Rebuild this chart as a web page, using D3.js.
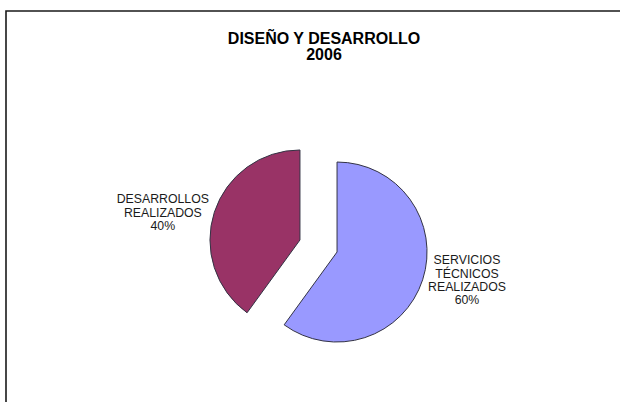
<!DOCTYPE html>
<html>
<head>
<meta charset="utf-8">
<script src="https://cdn.jsdelivr.net/npm/d3@7"></script>
<style>
body{margin:0;background:#fff;}
svg{display:block;font-family:Arial,"Liberation Sans",sans-serif;}
</style>
</head>
<body>
<svg id="chart" width="620" height="402"></svg>
<script>
// datos del grafico
var titulo=["DISEÑO Y DESARROLLO","2006"];
var categorias=[["SERVICIOS","TÉCNICOS","REALIZADOS"],["DESARROLLOS","REALIZADOS"]];
var valores=[60,40];
var colores=["#9999ff","#993366"];

var svg=d3.select("#chart");
var W=620,H=402;
var cx=318.5,cy=246,radio=90,separa=19.5;

// marco (solo arriba e izquierda se ven en la imagen)
svg.append("path")
    .attr("d","M6,"+H+"V11H"+W)
    .attr("fill","none")
    .attr("stroke","#1a1a1a")
    .attr("stroke-width",1.6);

// titulo
svg.selectAll("text.titulo")
    .data(titulo)
    .enter().append("text")
    .attr("class","titulo")
    .attr("x",324)
    .attr("y",function(d,i){return 43.5+i*16.5;})
    .attr("text-anchor","middle")
    .attr("font-weight","bold")
    .attr("font-size","16px")
    .attr("fill","#000")
    .text(function(d){return d;});

var pie=d3.pie().sort(null).value(function(d){return d;});
var arcos=pie(valores);
var arc=d3.arc().innerRadius(0).outerRadius(radio);

var g=svg.append("g").attr("transform","translate("+cx+","+cy+")");

var rebanadas=g.selectAll("g.slice")
    .data(arcos)
    .enter().append("g")
    .attr("class","slice")
    .attr("transform",function(d){
        var a=(d.startAngle+d.endAngle)/2;
        return "translate("+(Math.sin(a)*separa)+","+(-Math.cos(a)*separa)+")";
    });

rebanadas.append("path")
    .attr("d",arc)
    .attr("fill",function(d,i){return colores[i];})
    .attr("stroke","#333344")
    .attr("stroke-width",1);

// etiquetas al lado del borde de la torta
rebanadas.each(function(d,i){
    var a=(d.startAngle+d.endAngle)/2;
    var lineas=categorias[i].concat([Math.round(d.value/d3.sum(valores)*100)+"%"]);
    var t=d3.select(this).append("text")
        .attr("font-size","12.3px")
        .attr("fill","#1a1a1a")
        .attr("text-anchor","middle");
    lineas.forEach(function(l){
        t.append("tspan").text(l);
    });
    var ancho=0;
    t.selectAll("tspan").each(function(){ancho=Math.max(ancho,this.getComputedTextLength());});
    var lado=Math.sin(a)>=0?1:-1;
    var x=lado*(radio+1+ancho/2);
    var ymid=-Math.cos(a)*radio;
    var alto=13.4;
    var y0=ymid-(lineas.length-1)*alto/2+4.4;
    t.selectAll("tspan")
        .attr("x",x)
        .attr("y",function(l,k){return y0+k*alto;});
});
</script>
</body>
</html>
